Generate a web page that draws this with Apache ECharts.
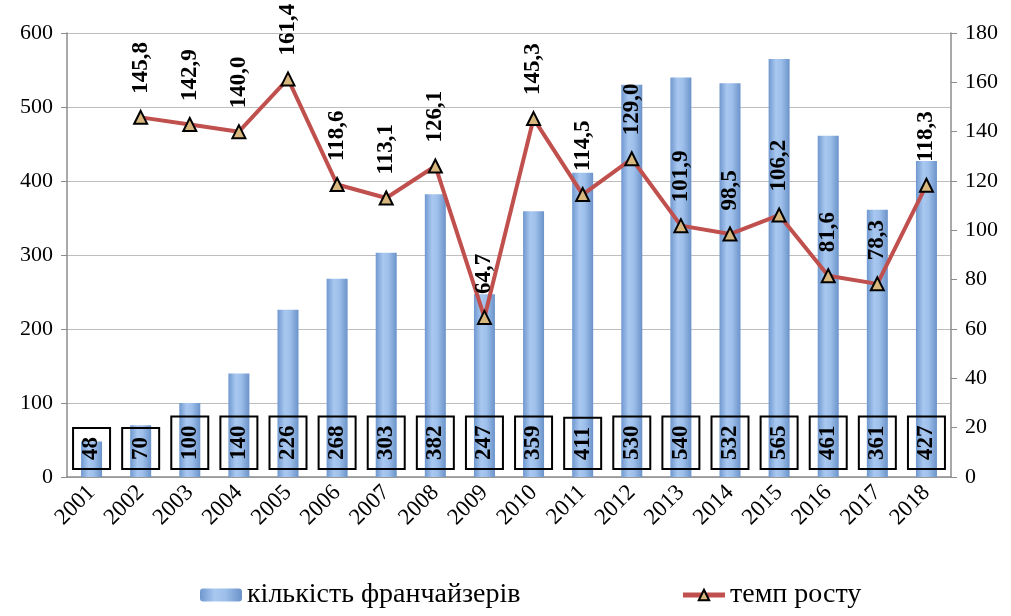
<!DOCTYPE html>
<html>
<head>
<meta charset="utf-8">
<script src="https://cdn.jsdelivr.net/npm/echarts@6/dist/echarts.min.js"></script>
<style>
  html, body { margin: 0; padding: 0; background: #fff; }
  #chart { width: 1011px; height: 616px; }
</style>
</head>
<body>
<div id="chart"></div>
<script>
// роки
const years = ['2001', '2002', '2003', '2004', '2005', '2006', '2007', '2008', '2009',
  '2010', '2011', '2012', '2013', '2014', '2015', '2016', '2017', '2018'];
// кількість франчайзерів
const franchisors = [48, 70, 100, 140, 226, 268, 303, 382, 247, 359, 411, 530, 540, 532, 565, 461, 361, 427];
// темп росту, %
const growth = [null, 145.8, 142.9, 140.0, 161.4, 118.6, 113.1, 126.1, 64.7, 145.3, 114.5, 129.0, 101.9, 98.5, 106.2, 81.6, 78.3, 118.3];

const serif = "'Liberation Serif', 'DejaVu Serif', serif";

const chart = echarts.init(document.getElementById('chart'));

const barColor = new echarts.graphic.LinearGradient(0, 0, 1, 0, [
  { offset: 0, color: '#6f98cf' },
  { offset: 0.35, color: '#a9c8f0' },
  { offset: 0.6, color: '#9dbfea' },
  { offset: 1, color: '#6b93c9' },
]);

const option = {
  animation: false,
  textStyle: { fontFamily: serif },
  grid: { left: 67, right: 60, top: 33, bottom: 139 },
  legend: {
    bottom: 2,
    left: 195,
    itemGap: 160,
    itemWidth: 42,
    itemHeight: 13,
    textStyle: { fontFamily: serif, fontSize: 28, color: '#000' },
    data: [
      { name: 'кількість франчайзерів' },
      { name: 'темп росту', lineStyle: { width: 5 } },
    ],
  },
  xAxis: {
    type: 'category',
    data: years,
    axisLine: { lineStyle: { color: '#8c8c8c', width: 1.5 } },
    axisTick: { length: 7, lineStyle: { color: '#8c8c8c' } },
    axisLabel: {
      rotate: 45,
      margin: 12,
      fontFamily: serif,
      fontSize: 23,
      color: '#000',
    },
  },
  yAxis: [
    {
      type: 'value',
      min: 0,
      max: 600,
      interval: 100,
      axisLine: { show: true, lineStyle: { color: '#8c8c8c', width: 1.5 } },
      axisTick: { show: true, length: 6, lineStyle: { color: '#8c8c8c' } },
      splitLine: { lineStyle: { color: '#bdbdbd', width: 1 } },
      axisLabel: { fontFamily: serif, fontSize: 22, color: '#000', margin: 14 },
    },
    {
      type: 'value',
      min: 0,
      max: 180,
      interval: 20,
      position: 'right',
      axisLine: { show: true, lineStyle: { color: '#8c8c8c', width: 1.5 } },
      axisTick: { show: true, length: 6, lineStyle: { color: '#8c8c8c' } },
      splitLine: { show: false },
      axisLabel: { fontFamily: serif, fontSize: 22, color: '#000', margin: 14 },
    },
  ],
  series: [
    {
      name: 'кількість франчайзерів',
      type: 'bar',
      data: franchisors,
      barWidth: 21,
      itemStyle: { color: barColor },
      label: {
        show: true,
        position: 'insideBottom',
        distance: 8,
        rotate: 90,
        align: 'left',
        verticalAlign: 'middle',
        fontFamily: serif,
        fontSize: 23,
        fontWeight: 'bold',
        color: '#000',
        borderColor: '#000',
        borderWidth: 2,
        padding: [8, 9, 6, 9],
      },
    },
    {
      name: 'темп росту',
      type: 'line',
      yAxisIndex: 1,
      data: growth,
      symbol: 'triangle',
      symbolSize: 13,
      lineStyle: { color: '#c0504d', width: 4 },
      itemStyle: { color: '#d8b77e', borderColor: '#000', borderWidth: 2 },
      label: {
        show: true,
        position: 'top',
        distance: 16,
        rotate: 90,
        align: 'left',
        verticalAlign: 'middle',
        fontFamily: serif,
        fontSize: 23,
        fontWeight: 'bold',
        color: '#000',
        formatter: (p) => p.value.toFixed(1).replace('.', ','),
      },
    },
  ],
};

chart.setOption(option);
</script>
</body>
</html>
